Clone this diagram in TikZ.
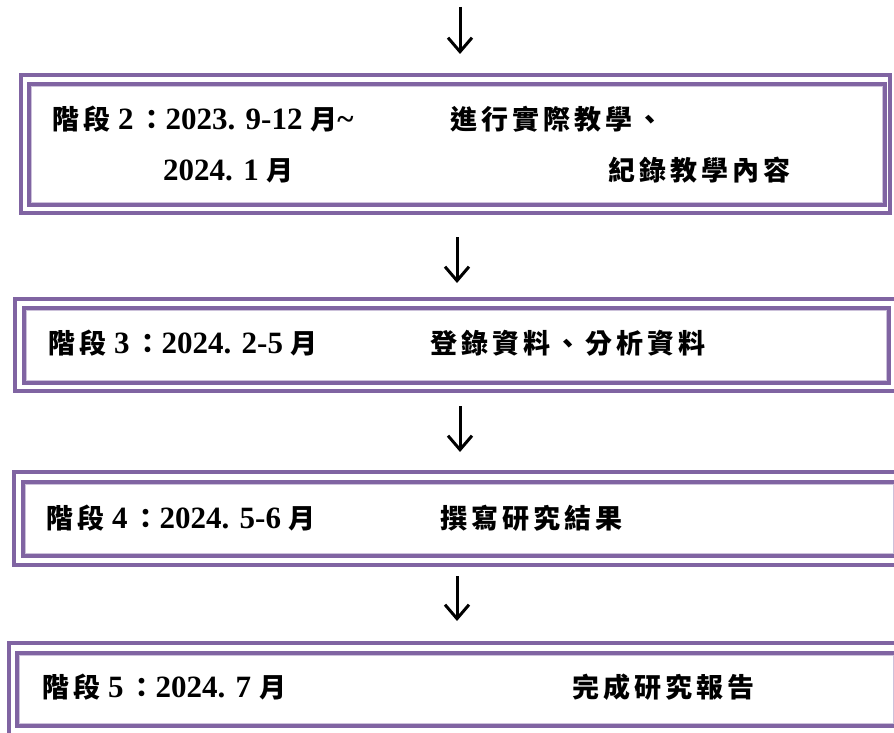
\documentclass[tikz,border=0pt]{standalone}
\usepackage{fontspec}
\setmainfont{Liberation Serif}
\newfontfamily\cjk[LetterSpace=15]{Noto Sans CJK TC}
\usetikzlibrary{arrows.meta}
\definecolor{frame}{HTML}{8064A2}
\definecolor{framelight}{HTML}{CCC1DA}
\newcommand{\zh}[1]{{\cjk\fontsize{27}{30}\selectfont #1}}
\begin{document}
\begin{tikzpicture}[x=1pt,y=-1pt,
  outerline/.style={draw=frame,line width=4pt},
  innerline/.style={draw=frame,line width=3.5pt},
  lightline/.style={draw=framelight,line width=1pt},
  lbl/.style={anchor=base west,inner sep=0pt,font=\fontsize{31}{34}\selectfont\bfseries},
  flow/.style={line width=3pt,-{Straight Barb[length=14pt,width=24pt]}}]
\useasboundingbox (0,0) rectangle (894,733);
\clip (0,0) rectangle (894,733);
\fill[white] (0,0) rectangle (894,733);

% Box 2
\draw[outerline] (21,75) rectangle (890,213);
\draw[innerline] (29,84) rectangle (885,205);
\draw[lightline] (31.5,86.5) rectangle (882.5,202.5);
% Box 3
\draw[outerline] (15,299) rectangle (900,391);
\draw[innerline] (24,308) rectangle (889,383);
\draw[lightline] (26.5,310.5) rectangle (886.5,380.5);
% Box 4
\draw[outerline] (14,472) rectangle (900,565);
\draw[innerline] (23,482) rectangle (897,556);
\draw[lightline] (25.5,484.5) rectangle (893,553.5);
% Box 5
\draw[outerline] (9,643) rectangle (900,745);
\draw[innerline] (17,653) rectangle (897,726);
\draw[lightline] (19.5,655.5) rectangle (893,723.5);

% Texts
\node[lbl] (t2a) at (52,130) {\zh{階段} 2\,\zh{：}2023. 9-12 \zh{月}\textasciitilde};
\node[lbl] (t2b) at (163,180) {2024. 1 \zh{月}};
\node[lbl] (t2c) at (450,130) {\zh{進行實際教學、}};
\node[lbl] (t2d) at (608,180) {\zh{紀錄教學內容}};

\node[lbl] (t3a) at (48,353) {\zh{階段} 3\,\zh{：}2024. 2-5 \zh{月}};
\node[lbl] (t3b) at (430,353) {\zh{登錄資料、分析資料}};

\node[lbl] (t4a) at (46,528) {\zh{階段} 4\,\zh{：}2024. 5-6 \zh{月}};
\node[lbl] (t4b) at (440,528) {\zh{撰寫研究結果}};

\node[lbl] (t5a) at (42,697) {\zh{階段} 5\,\zh{：}2024. 7 \zh{月}};
\node[lbl] (t5b) at (572,697) {\zh{完成研究報告}};

% Arrows
\coordinate (a1s) at (460,7);   \coordinate (a1e) at (460,54);
\coordinate (a2s) at (457,237); \coordinate (a2e) at (457,283);
\coordinate (a3s) at (460,406); \coordinate (a3e) at (460,452);
\coordinate (a4s) at (457,576); \coordinate (a4e) at (457,621);
\draw[flow] (a1s) -- (a1e);
\draw[flow] (a2s) -- (a2e);
\draw[flow] (a3s) -- (a3e);
\draw[flow] (a4s) -- (a4e);
\end{tikzpicture}
\end{document}
